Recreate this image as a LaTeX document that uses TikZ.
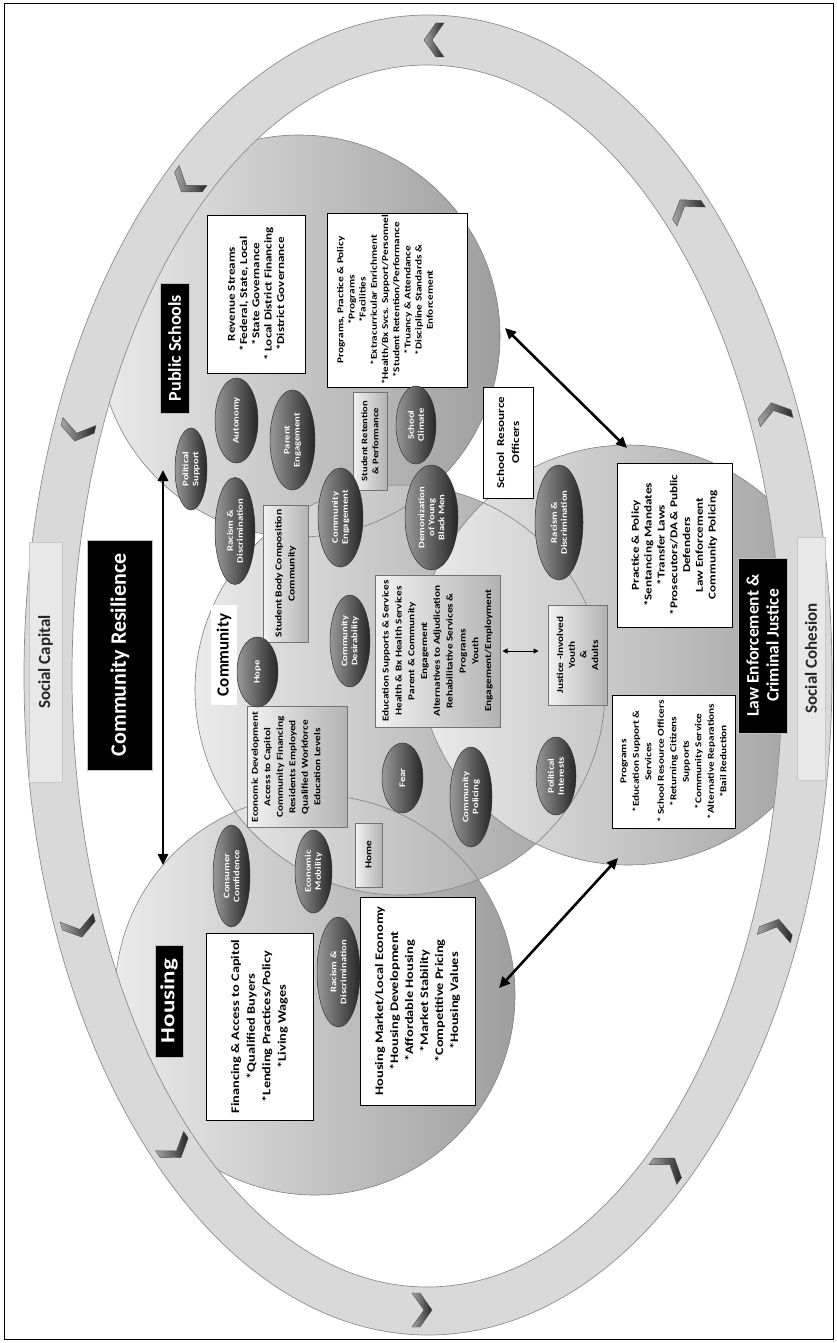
\documentclass[tikz,border=0pt]{standalone}
\usepackage{fontspec}
\setmainfont{Carlito}
\newfontfamily\widefont{Carlito}[FakeStretch=1.25]
\usetikzlibrary{arrows.meta,shapes.geometric}
\newcommand\fsz[2]{\fontsize{#1}{#2}\selectfont}
\begin{document}
\begin{tikzpicture}[x=1pt,y=-1pt]
\tikzset{
 sz/.style 2 args={minimum height=#1pt, minimum width=#2pt},
 dk/.style={ellipse, rotate=90, draw=black!80, line width=0.5pt, left color=black!40, right color=black!85, text=white, inner sep=0pt, align=center, font=\widefont\bfseries\fsz{8.5}{10}},
 wb/.style={rectangle, rotate=90, draw=black, line width=1pt, fill=white, inner sep=0pt, align=center},
 gb/.style={rectangle, rotate=90, draw=black!55, line width=1pt, left color=black!5, right color=black!30, inner sep=0pt, align=center},
 tx/.style={rotate=90, inner sep=0pt, align=center},
 bl/.style={rectangle, rotate=90, fill=black, draw=black!25, line width=0.8pt, text=white, inner sep=0pt, align=center},
 rl/.style={rectangle, rotate=90, fill=black!9, draw=black!22, line width=0.6pt, text=black!85, inner sep=0pt, align=center},
 bigarr/.style={{Triangle[length=11pt,width=10pt]}-{Triangle[length=11pt,width=10pt]}, line width=2.6pt},
 circ/.style={left color=black!8, right color=black!38},
 cedge/.style={draw=black!50, line width=0.6pt},
 chev/.pic={\path[left color=black!35, right color=black!85, draw=black!70, line width=0.4pt] (-8,-17) -- (4,0) -- (-8,17) -- (-16,17) -- (-4,0) -- (-16,-17) -- cycle;}
}
\useasboundingbox (0,0) rectangle (837,1343);
\draw[line width=1pt] (4,4) rectangle (833,1339);

% circles
\begin{scope}
\clip (428,675) ellipse [x radius=404, y radius=660];
\path[circ] (315,995) circle [radius=200];
\path[circ] (299,336) circle [radius=201];
\path[circ] (400,690) circle [radius=205];
\path[circ] (628,655) circle [radius=210];
\draw[cedge] (315,995) circle [radius=200];
\draw[cedge] (299,336) circle [radius=201];
\draw[cedge] (400,690) circle [radius=205];
\draw[cedge] (628,655) circle [radius=210];
\end{scope}

% ring
\path[fill=black!15, even odd rule] (428,675) ellipse [x radius=404, y radius=660] (427,676) ellipse [x radius=355, y radius=611];
\draw[black!45, line width=0.7pt] (428,675) ellipse [x radius=404, y radius=660];
\draw[black!45, line width=0.7pt] (427,676) ellipse [x radius=355, y radius=611];
\foreach \t in {25,48,90,130,158,204,229,270,310,337}
  \pic[rotate={atan2(635*cos(\t),-380*sin(\t))}] at ({428+380*cos(\t)},{675-635*sin(\t)}) {chev};

\node[rl, sz={33}{240}, font=\bfseries\fsz{17}{20}] (scap) at (45.5,662) {Social Capital};
\node[rl, sz={28}{243}, font=\bfseries\fsz{17}{20}] (scoh) at (811,658.5) {Social Cohesion};

% labels
\node[bl, sz={29}{130}, font=\bfseries\fsz{18}{21}] (lps) at (174.5,348) {Public Schools};
\node[bl, sz={28}{112}, font=\widefont\bfseries\fsz{20}{24}] (lh) at (169,1001) {Housing};
\node[bl, sz={65}{230}, font=\bfseries\fsz{22}{26}] (lcr) at (120,655) {Community Resilience};
\node[bl, sz={49}{175}, font=\bfseries\fsz{17.5}{20}] (lle) at (762.5,645.5) {Law Enforcement \&\\Criminal Justice};
\node[rectangle, rotate=90, fill=white, inner sep=0pt, sz={26}{100}, font=\bfseries\fsz{17}{19}] (lcom) at (224,655) {Community};

% white boxes
\node[wb, sz={98}{158}, font=\widefont\bfseries\fsz{10.5}{12.3}] (rev) at (256,294) {Revenue Streams\\{}*Federal, State, Local\\{}*State Governance\\{}* Local District Financing\\{}*District Governance};
\node[wb, sz={140}{174}] (progS) at (397,300) {};
\node[tx, font=\widefont\bfseries\fsz{9}{11.2}] (progSt) at (385,300) {Programs, Practice \& Policy\\{}*Programs\\{}*Facilities\\{}*Extracurricular Enrichment\\{}*Health/Bx Svcs. Support/Personnel\\{}*Student Retention/Performance\\{}*Truancy \& Attendance\\{}*Discipline Standards \&\\Enforcement};
\node[wb, sz={50}{111}, font=\widefont\bfseries\fsz{10.5}{15}] (sro) at (508,442.5) {School~~Resource\\Officers};
\node[wb, sz={115}{164}, font=\widefont\bfseries\fsz{10.5}{12.8}] (pracL) at (674.5,545) {Practice \& Policy\\{}*Sentancing Mandates\\{}*Transfer Laws\\{}*Prosecutors/DA \& Public\\Defenders\\Law Enforcement\\Community Policing};
\node[wb, sz={123}{133}, font=\widefont\bfseries\fsz{9}{12.5}] (progL) at (673.5,761.5) {Programs\\{}*Education Support \&\\Services\\{}* School Resource Officers\\{}*Returning Citizens\\Supports\\{}*Community Service\\{}*Alternative Reparations\\{}*Bail Reduction};
\node[wb, sz={107}{187}, font=\widefont\bfseries\fsz{11.5}{15.6}] (fin) at (259.5,1026.5) {Financing \& Access to Capitol\\{}*Qualified Buyers\\{}*Lending Practices/Policy\\{}*Living Wages};
\node[wb, sz={115}{208}, font=\widefont\bfseries\fsz{11.5}{15}] (hmkt) at (417.5,1001) {Housing Market/Local Economy\\{}*Housing Development\\{}*Affordable Housing\\{}*Market Stability\\{}*Competitive Pricing\\{}*Housing Values};

% gray boxes
\node[gb, sz={34}{98}, font=\widefont\bfseries\fsz{8.5}{11}] (stret) at (370,441) {Student Retention\\\& Performance};
\node[gb, sz={45}{137}, font=\widefont\bfseries\fsz{9.2}{13}] (sbody) at (285.5,573.5) {Student Body Composition\\Community};
\node[gb, sz={100}{121}] (econ) at (297,767) {};
\node[tx, font=\widefont\bfseries\fsz{9}{12.5}] (econt) at (286,767) {Economic Development\\Access to Capitol\\Community Financing\\Residents Employed\\Qualified Workforce\\Education Levels};
\node[gb, sz={125}{152}, font=\widefont\bfseries\fsz{9}{12.8}] (edu) at (437.5,651) {Education Supports \& Services\\Health \& Bx Health Services\\Parent \& Community\\Engagement\\Alternatives to Adjudication\\Rehabilitative Services \&\\Programs\\Youth\\Engagement/Employment};
\node[gb, sz={59}{100}, font=\widefont\bfseries\fsz{9}{11.7}] (jus) at (577.5,655) {Justice -Involved\\Youth\\\&\\Adults};
\node[gb, sz={27}{64}, font=\widefont\bfseries\fsz{9}{11}] (home) at (368.5,855) {Home};

% dark ellipses
\node[dk, sz={32}{82}] (polsup) at (191,469) {Political\\Support};
\node[dk, sz={43}{85}] (auton) at (236.5,420.5) {Autonomy};
\node[dk, sz={45}{100}] (parent) at (292.5,440) {Parent\\Engagement};
\node[dk, sz={40}{107}] (racS) at (235,531) {Racism \&\\Discrimination};
\node[dk, sz={45}{99}] (comeng) at (340.5,517.5) {Community\\Engagement};
\node[dk, sz={40}{78}] (climate) at (416,425) {School\\Climate};
\node[dk, sz={53}{105}] (demon) at (431.5,517.5) {Demonization\\of Young\\Black Men};
\node[dk, sz={41}{70}] (hope) at (257.5,672) {Hope};
\node[dk, sz={40}{92}] (desir) at (350,641) {Community\\Desirability};
\node[dk, sz={37}{102}] (consum) at (231.5,876) {Consumer\\Comfidence};
\node[dk, sz={37}{83}] (mobil) at (313.5,871.5) {Economic\\Mobility};
\node[dk, sz={43}{110}] (racH) at (338.5,972) {Racism \&\\Discrimination};
\node[dk, sz={41}{70}] (fear) at (402.5,778) {Fear};
\node[dk, sz={42}{100}] (compol) at (471,797) {Community\\Policing};
\node[dk, sz={40}{78}] (polint) at (556,776) {Political\\Interests};
\node[dk, sz={48}{115}] (racL) at (559,522.5) {Racism \&\\Discrimination};

% arrows
\coordinate (crA) at (163,470);
\coordinate (crB) at (163,865);
\draw[bigarr] (crA) -- (crB);
\coordinate (slA) at (505,328);
\coordinate (slB) at (627,448);
\draw[bigarr] (slA) -- (slB);
\coordinate (hlA) at (618,858);
\coordinate (hlB) at (499,988);
\draw[bigarr] (hlA) -- (hlB);
\draw[{Triangle[length=5pt,width=5pt]}-{Triangle[length=5pt,width=5pt]}, line width=1pt, shorten <=2pt, shorten >=9pt] (edu.south) -- (edu.south -| jus.north);
\end{tikzpicture}
\end{document}
